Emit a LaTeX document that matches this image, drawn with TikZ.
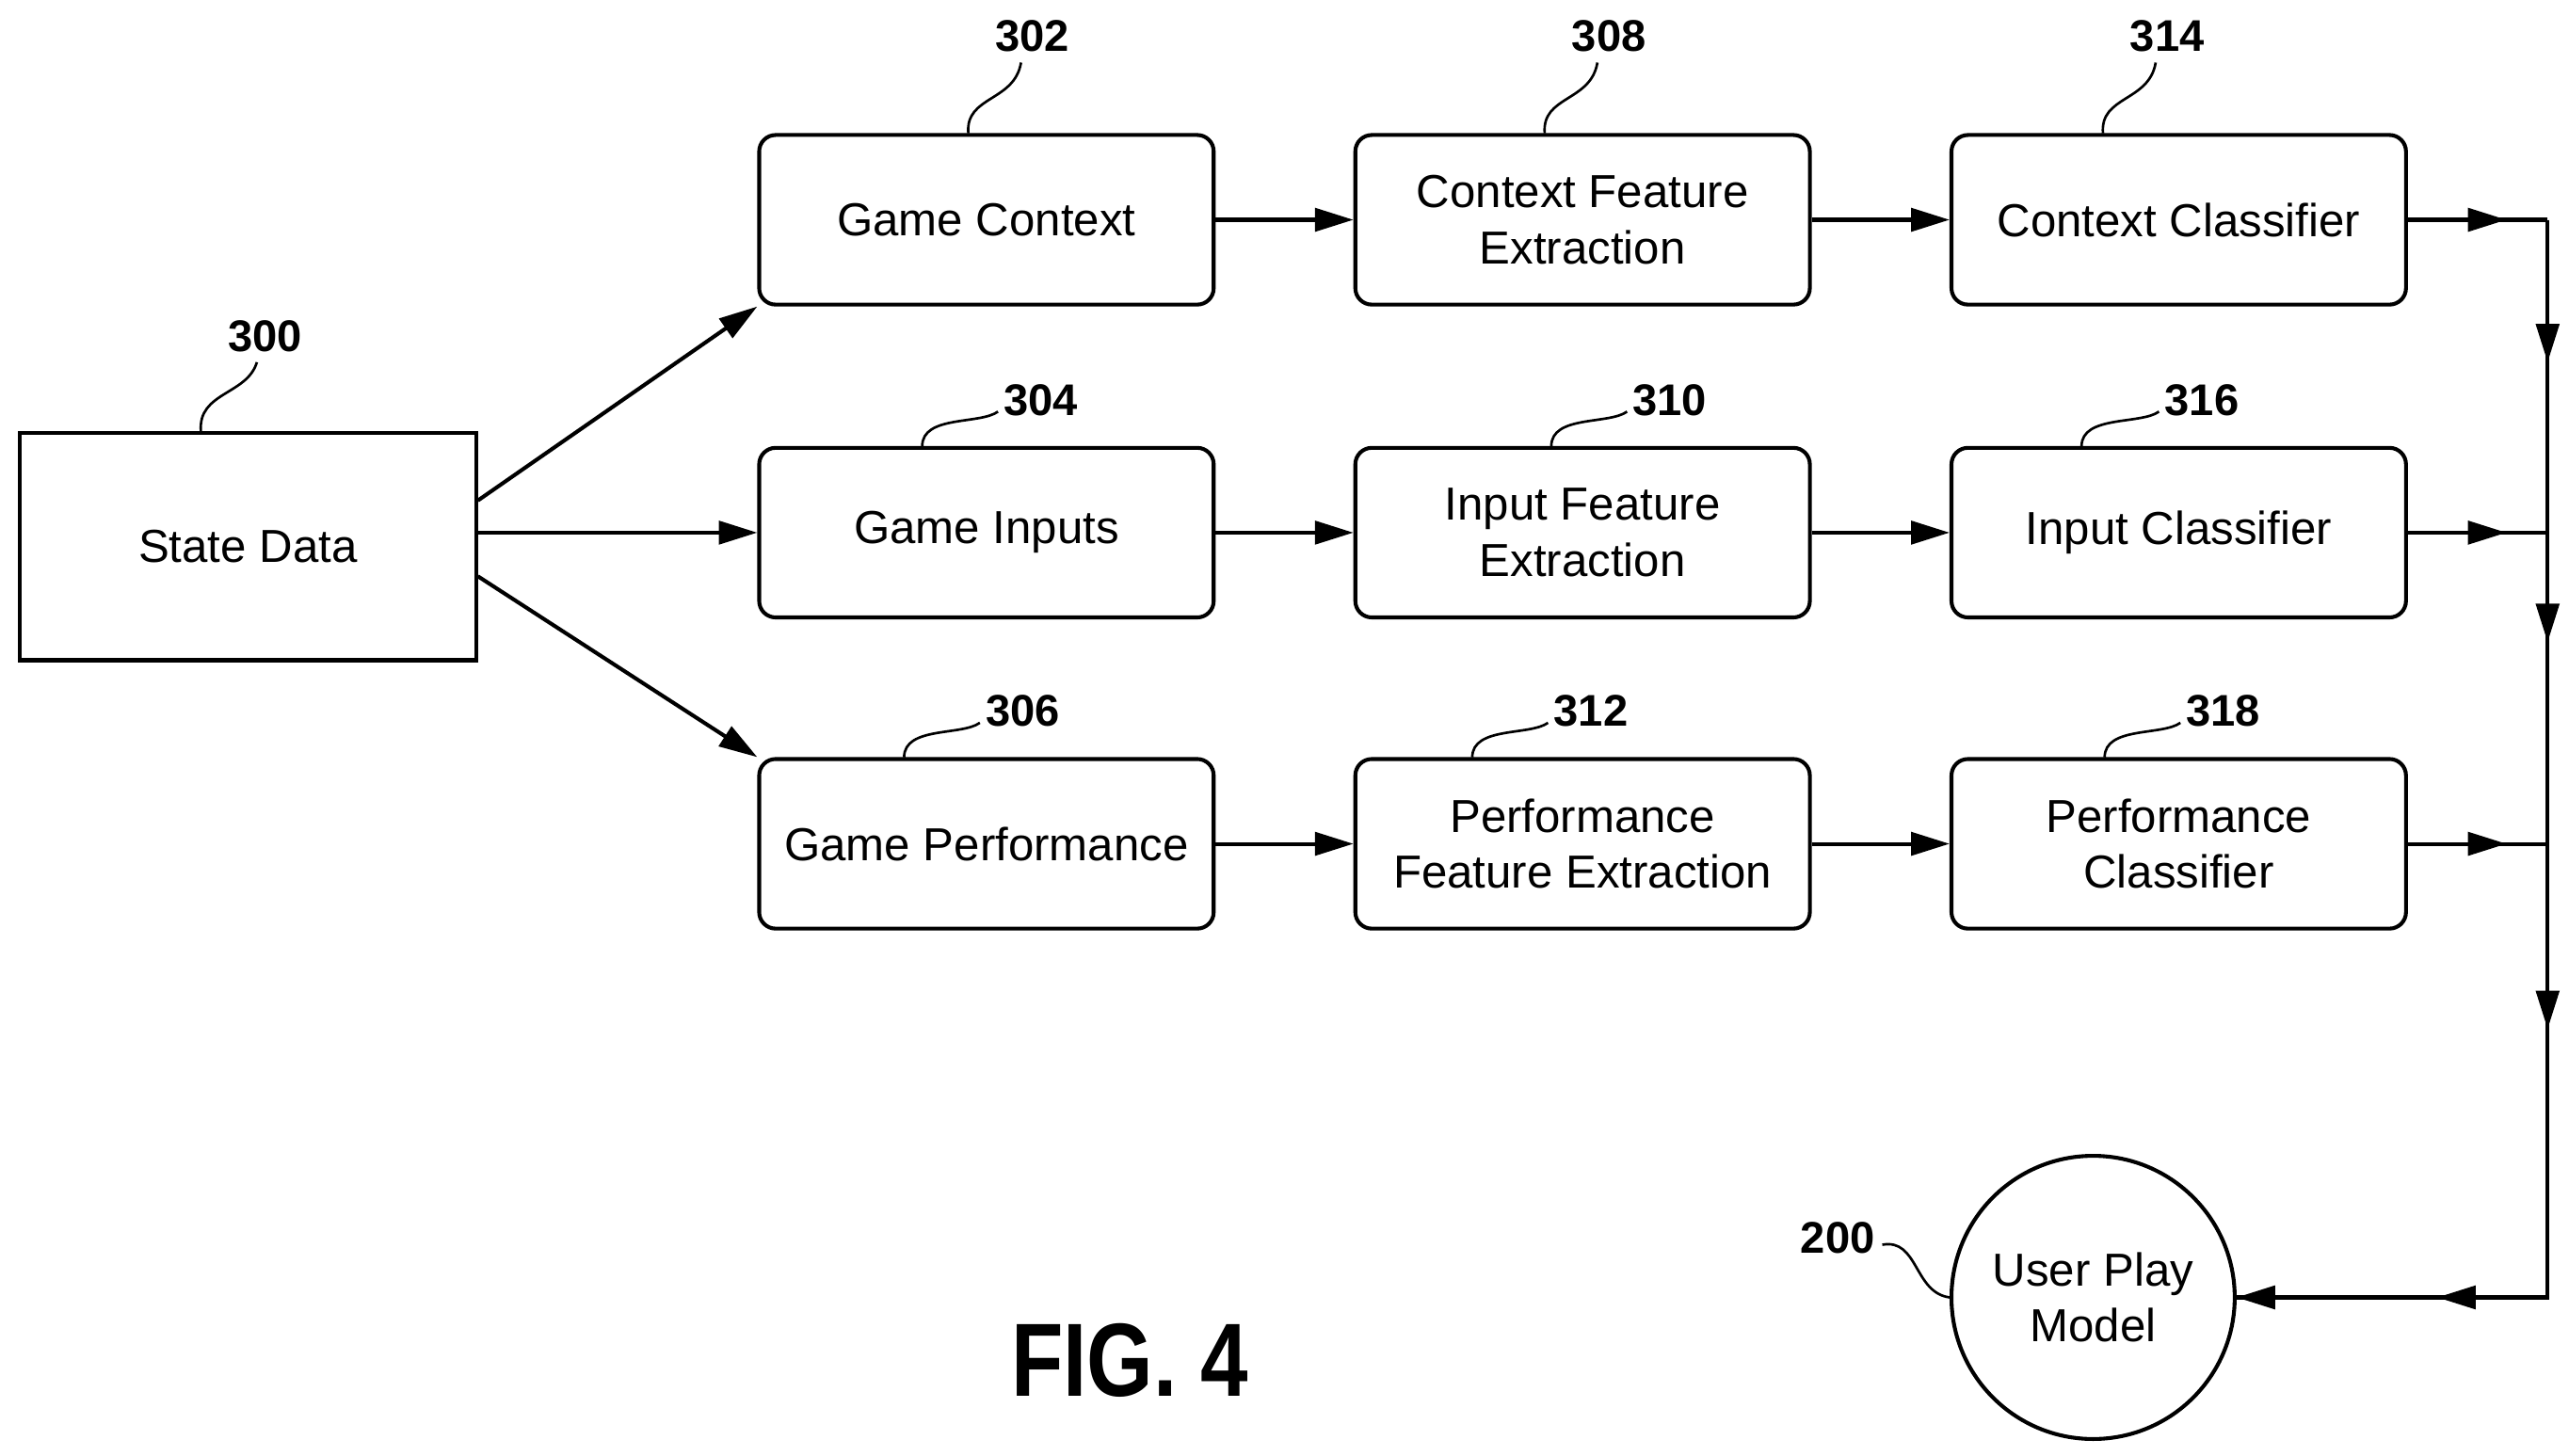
\documentclass[tikz,border=0pt]{standalone}
\usepackage{fontspec}
\setmainfont{Liberation Sans}
\usetikzlibrary{arrows.meta,calc}
\begin{document}
\begin{tikzpicture}[x=0.3mm,y=-0.3mm,
  box/.style={draw,line width=2pt,rounded corners=3mm,minimum width=276*0.3mm,minimum height=103*0.3mm,align=center,font=\fontsize{24}{29}\selectfont,inner sep=0pt},
  lab/.style={font=\bfseries\fontsize{23}{27}\selectfont,inner sep=1pt},
  ar/.style={line width=2pt,-{Triangle[length=7mm,width=4.2mm]}},
  ln/.style={line width=2pt},
  sq/.style={line width=1.3pt}]
\useasboundingbox (0,0) rectangle (1560,884);
\node[box,rounded corners=0pt,minimum width=277*0.3mm,minimum height=138*0.3mm] (sd) at (150.5,332) {State Data};
\node[box] (a1) at (599,133.5) {Game Context};
\node[box] (a2) at (599,323.5) {Game Inputs};
\node[box] (a3) at (599,512.5) {Game Performance};
\node[box] (b1) at (961,133.5) {Context Feature\\Extraction};
\node[box] (b2) at (961,323.5) {Input Feature\\Extraction};
\node[box] (b3) at (961,512.5) {Performance\\Feature Extraction};
\node[box] (c1) at (1323,133.5) {Context Classifier};
\node[box] (c2) at (1323,323.5) {Input Classifier};
\node[box] (c3) at (1323,512.5) {Performance\\Classifier};
\node[draw,circle,line width=2pt,minimum size=172*0.3mm,align=center,font=\fontsize{24}{29}\selectfont,inner sep=0pt] (um) at (1271,788) {User Play\\Model};
\node[font=\bfseries\fontsize{54}{60}\selectfont,xscale=0.82] (fig) at (686,826) {FIG. 4};
% labels
\node[lab] (l300) at (161,204) {300};
\node[lab] (l302) at (627,22) {302};
\node[lab] (l308) at (977,22) {308};
\node[lab] (l314) at (1316,22) {314};
\node[lab] (l304) at (632,243) {304};
\node[lab] (l310) at (1014,243) {310};
\node[lab] (l316) at (1337,243) {316};
\node[lab] (l306) at (621,432) {306};
\node[lab] (l312) at (966,432) {312};
\node[lab] (l318) at (1350,432) {318};
\node[lab] (l200) at (1116,752) {200};
\draw[sq] (122,262) .. controls (120,238) and (150,240) .. (156,220);
\draw[sq] (588,81) .. controls (586,58) and (616,62) .. (620,38);
\draw[sq] (938,81) .. controls (936,58) and (966,62) .. (970,38);
\draw[sq] (1277,81) .. controls (1275,58) and (1305,62) .. (1309,38);
\draw[sq] (560,271) .. controls (560,252) and (595,258) .. (606,250);
\draw[sq] (942,271) .. controls (942,252) and (977,258) .. (988,250);
\draw[sq] (1264,271) .. controls (1264,252) and (1300,258) .. (1311,250);
\draw[sq] (549,460) .. controls (549,441) and (584,447) .. (595,439);
\draw[sq] (894,460) .. controls (894,441) and (929,447) .. (940,439);
\draw[sq] (1278,460) .. controls (1278,441) and (1313,447) .. (1324,439);
\draw[sq] (1143,756) .. controls (1165,752) and (1162,785) .. (um.west);
% connectors
\draw[ar] (sd.east |- 0,304) -- (a1.south west);
\draw[ar] (sd.east |- 0,323.5) -- (a2.west);
\draw[ar] (sd.east |- 0,350) -- (a3.north west);
\foreach \r in {1,2,3}{
  \draw[ar] (a\r) -- (b\r);
  \draw[ar] (b\r) -- (c\r);
  \coordinate (e\r) at (1547,0 |- c\r);
  \draw[ar] (c\r.east) -- ($(e\r)+(-25,0)$);
  \draw[ln] (c\r.east) -- (e\r);
}
\coordinate (bot) at (1547,788);
\draw[ln] (e1) -- (bot) -- (um.east);
\draw[ar] (e1) -- (1547,220);
\draw[ar] (e2) -- (1547,390);
\draw[ar] (e3) -- (1547,625);
\draw[ar] (bot) -- (1480,788);
\draw[ar] (bot) -- (um.east);
\end{tikzpicture}
\end{document}
